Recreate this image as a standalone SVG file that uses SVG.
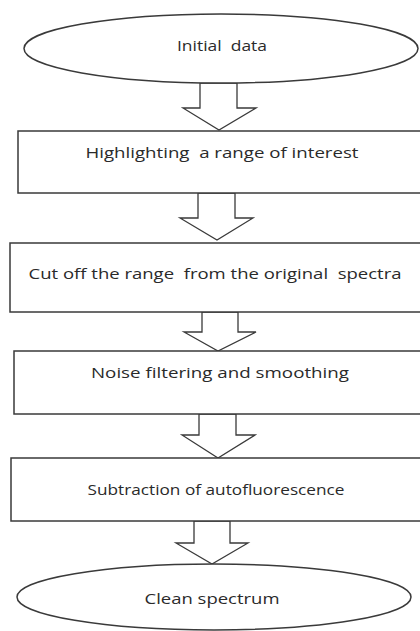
<svg xmlns="http://www.w3.org/2000/svg" width="420" height="631" viewBox="0 0 420 631">
<style>
.n{fill:#fff;stroke:#3a3a3a;stroke-width:1.5}
.a{fill:#fff;stroke:#3a3a3a;stroke-width:1.3;stroke-linejoin:miter}
text{font-family:"Open Sans","Liberation Sans",sans-serif;font-size:15px;fill:#2a2a2a;text-anchor:middle;white-space:pre}
</style>
<rect width="420" height="631" fill="#fff"/>
<g id="connectors">
<polygon class="a" points="200,83 200,108 183,108 219,130 256,108 237,108 237,83"/>
<polygon class="a" points="198,193 198,218 180,218 217,240 253,218 235,218 235,193"/>
<polygon class="a" points="202,312 202,332 184,332 218,351 256,332 238,332 238,312"/>
<polygon class="a" points="199,414 199,435 182,435 218,458 255,435 236,435 236,414"/>
<polygon class="a" points="194,521 194,543 176,543 212,564 248,543 230,543 230,521"/>
</g>
<g id="n1"><ellipse class="n" cx="221" cy="48.5" rx="197" ry="34.5"/><text x="222" y="51" textLength="90" lengthAdjust="spacingAndGlyphs">Initial  data</text></g>
<g id="n2"><rect class="n" x="18" y="131" width="420" height="62"/><text x="222" y="158" textLength="273" lengthAdjust="spacingAndGlyphs">Highlighting  a range of interest</text></g>
<g id="n3"><rect class="n" x="10" y="243" width="420" height="69"/><text x="215" y="279" textLength="373" lengthAdjust="spacingAndGlyphs">Cut off the range  from the original  spectra</text></g>
<g id="n4"><rect class="n" x="14" y="351" width="420" height="63"/><text x="220" y="378" textLength="258" lengthAdjust="spacingAndGlyphs">Noise filtering and smoothing</text></g>
<g id="n5"><rect class="n" x="11" y="458" width="420" height="63"/><text x="216" y="495" textLength="257" lengthAdjust="spacingAndGlyphs">Subtraction of autofluorescence</text></g>
<g id="n6"><ellipse class="n" cx="214" cy="597" rx="197" ry="33"/><text x="212" y="604" textLength="135" lengthAdjust="spacingAndGlyphs">Clean spectrum</text></g>
</svg>
